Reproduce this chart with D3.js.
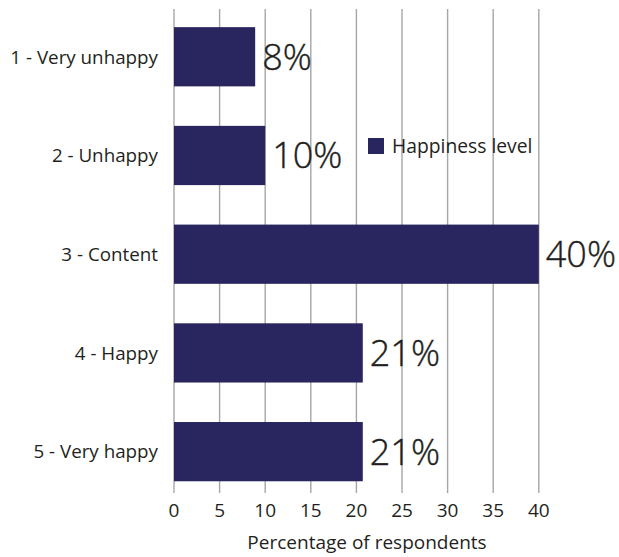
<!DOCTYPE html>
<html><head><meta charset="utf-8">
<script src="https://cdn.jsdelivr.net/npm/d3@7"></script>
<style>body{margin:0;background:#fff}svg{display:block}text{font-family:"Open Sans",sans-serif;fill:#231f20}</style>
</head><body><svg id="c" width="619" height="557"></svg>
<script>
const categories = ["1 - Very unhappy","2 - Unhappy","3 - Content","4 - Happy","5 - Very happy"];
const values = [8.9, 10, 40, 20.7, 20.7];
const valueLabels = ["8%","10%","40%","21%","21%"];
const xTicks = [0,5,10,15,20,25,30,35,40];
const seriesName = "Happiness level";
const xTitle = "Percentage of respondents";

const svg = d3.select("#c");
const x = d3.scaleLinear().domain([0,40]).range([174,538.8]);
const y = d3.scaleBand().domain(categories).range([7.4,501]).paddingInner(0.4).paddingOuter(0.2);
const color = "#29255f";

// gridlines
svg.append("g").selectAll("line").data(xTicks).join("line")
  .attr("x1",d=>x(d)).attr("x2",d=>x(d)).attr("y1",9).attr("y2",493)
  .attr("stroke","#a6a6a6").attr("stroke-width",1.4);

// bars
svg.append("g").selectAll("rect").data(values).join("rect")
  .attr("x",x(0)).attr("y",(d,i)=>y(categories[i]))
  .attr("width",d=>x(d)-x(0)).attr("height",y.bandwidth())
  .attr("fill",color);

// value labels
svg.append("g").selectAll("text").data(values).join("text")
  .attr("x",d=>x(d)+7).attr("y",(d,i)=>y(categories[i])+y.bandwidth()/2)
  .attr("dy","0.36em").attr("font-size",36).attr("font-weight",300)
  .attr("stroke","#231f20").attr("stroke-width",0.4)
  .text((d,i)=>valueLabels[i]);

// y labels
svg.append("g").selectAll("text").data(categories).join("text")
  .attr("x",158).attr("y",d=>y(d)+y.bandwidth()/2).attr("dy","0.36em")
  .attr("text-anchor","end").attr("font-size",18.8).text(d=>d);

// x tick labels
svg.append("g").selectAll("text").data(xTicks).join("text")
  .attr("x",d=>x(d)).attr("y",517).attr("text-anchor","middle")
  .attr("font-size",19).text(d=>d);

// x title
svg.append("text").attr("x",367).attr("y",549).attr("text-anchor","middle")
  .attr("font-size",19).text(xTitle);

// legend
const lg = svg.append("g").attr("transform","translate(368,138)");
lg.append("rect").attr("width",16).attr("height",16).attr("fill",color);
lg.append("text").attr("x",24).attr("y",8).attr("dy","0.36em").attr("font-size",19.3).text(seriesName);
</script></body></html>
